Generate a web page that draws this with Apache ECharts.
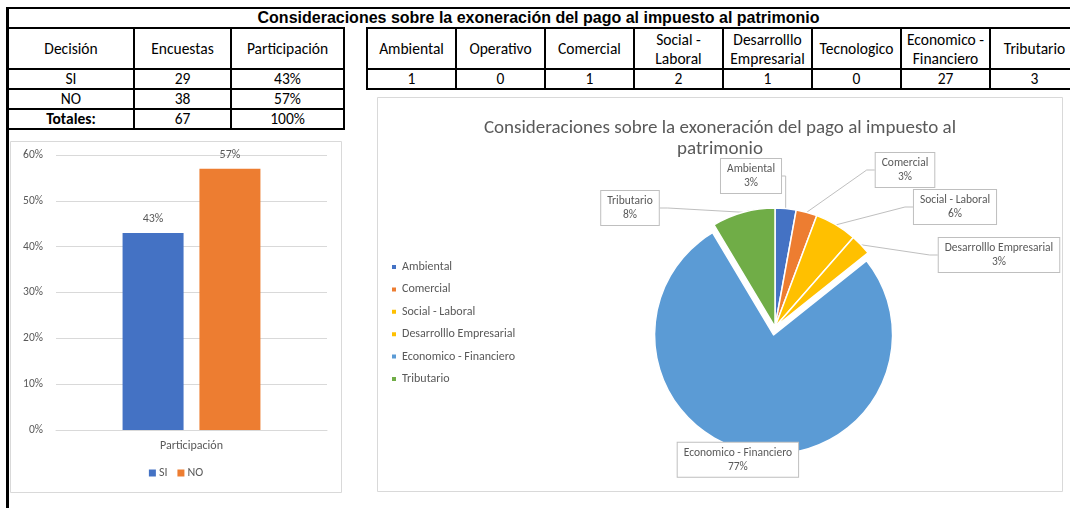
<!DOCTYPE html>
<html>
<head>
<meta charset="utf-8">
<script src="https://cdn.jsdelivr.net/npm/echarts@6/dist/echarts.min.js"></script>
<style>
  body { margin: 0; background: #fff; width: 1070px; height: 508px; overflow: hidden; position: relative; font-family: Carlito, Lato, sans-serif; }
  #leftLine { position: absolute; left: 6px; top: 7px; width: 3px; height: 501px; background: #000; }
  #title { position: absolute; left: 7px; top: 7px; width: 1063px; height: 21px; border-top: 2px solid #000; box-sizing: border-box;
           font: bold 16px "Liberation Sans", Arial, sans-serif; text-align: center; line-height: 18px; color: #000; }
  table { position: absolute; border-collapse: collapse; table-layout: fixed; font-size: 15.5px; color: #000; }
  td { border: 2px solid #000; text-align: center; padding: 0; line-height: 16px; overflow: hidden; white-space: nowrap; font-weight: normal; }
  td.two { line-height: 19px; }
  #bar, #pie { position: absolute; }
  #bar { left: 10px; top: 141px; width: 332px; height: 352px; }
  #pie { left: 377px; top: 97px; width: 686px; height: 395px; }
</style>
</head>
<body>
<div id="leftLine"></div>
<div id="title">Consideraciones sobre la exoneración del pago al impuesto al patrimonio</div>
<table id="tblDecision"></table>
<table id="tblCategorias"></table>
<div id="bar"></div>
<div id="pie"></div>
<script>
// tabla de decision
var decisiones = ['SI', 'NO'];
var encuestas = [29, 38];
var participacion = [43, 57];
var totalEncuestas = 67;
var totalParticipacion = 100;

// tabla de consideraciones
var categorias = ['Ambiental', 'Operativo', 'Comercial', 'Social - Laboral', 'Desarrolllo Empresarial', 'Tecnologico', 'Economico - Financiero', 'Tributario'];
var cabeceras = ['Ambiental', 'Operativo', 'Comercial', 'Social -<br>Laboral', 'Desarrolllo<br>Empresarial', 'Tecnologico', 'Economico -<br>Financiero', 'Tributario'];
var conteos = [1, 0, 1, 2, 1, 0, 27, 3];

// torta (solo las que tienen valor)
var tortaNombres = ['Ambiental', 'Comercial', 'Social - Laboral', 'Desarrolllo Empresarial', 'Economico - Financiero', 'Tributario'];
var tortaValores = [1, 1, 2, 1, 27, 3];
var tortaEtiquetas = ['3%', '3%', '6%', '3%', '77%', '8%'];
var tortaColores = ['#4472C4', '#ED7D31', '#FFC000', '#FFC000', '#5B9BD5', '#70AD47'];

var ejeY = [0, 10, 20, 30, 40, 50, 60];

/* armar tablas */
var t1 = document.getElementById('tblDecision');
t1.style.left = '7px'; t1.style.top = '27px'; t1.style.width = '336px';
var html = '<colgroup><col style="width:126px"><col style="width:97px"><col style="width:113px"></colgroup>';
html += '<tr style="height:41px"><td>Decisión</td><td>Encuestas</td><td>Participación</td></tr>';
for (var i = 0; i < decisiones.length; i++) {
    html += '<tr style="height:20px"><td>' + decisiones[i] + '</td><td>' + encuestas[i] + '</td><td>' + participacion[i] + '%</td></tr>';
}
html += '<tr style="height:20px"><td style="font-weight:bold">Totales:</td><td>' + totalEncuestas + '</td><td>' + totalParticipacion + '%</td></tr>';
t1.innerHTML = html;

var t2 = document.getElementById('tblCategorias');
t2.style.left = '366px'; t2.style.top = '27px'; t2.style.width = (89 * 8) + 'px';
html = '<colgroup>';
for (var i = 0; i < categorias.length; i++) html += '<col style="width:89px">';
html += '</colgroup><tr style="height:41px">';
for (var i = 0; i < cabeceras.length; i++) html += '<td class="two">' + cabeceras[i] + '</td>';
html += '</tr><tr style="height:20px">';
for (var i = 0; i < conteos.length; i++) html += '<td>' + conteos[i] + '</td>';
html += '</tr>';
t2.innerHTML = html;

var fuente = 'Carlito, Lato, sans-serif';
var gris = '#595959';

/* grafico de barras */
var barChart = echarts.init(document.getElementById('bar'));
var barOption = {
    animation: false,
    textStyle: { fontFamily: fuente },
    graphic: [{
        type: 'rect', z: -10,
        shape: { x: 0.5, y: 0.5, width: 331, height: 351 },
        style: { fill: '#fff', stroke: '#D9D9D9', lineWidth: 1 }
    }],
    grid: { left: 46, right: 15, top: 14, bottom: 63 },
    legend: {
        bottom: 9, left: 'center',
        itemWidth: 7, itemHeight: 7, itemGap: 10,
        icon: 'rect',
        textStyle: { color: gris, fontSize: 12, fontFamily: fuente, padding: [0, 0, 0, -2] },
        data: decisiones
    },
    xAxis: {
        type: 'category',
        data: ['Participación'],
        axisLine: { lineStyle: { color: '#D9D9D9' } },
        axisTick: { show: false },
        axisLabel: { color: gris, fontSize: 12, margin: 10 }
    },
    yAxis: {
        type: 'value', min: ejeY[0], max: ejeY[ejeY.length - 1], interval: 10,
        axisLine: { show: false },
        axisTick: { show: false },
        splitLine: { lineStyle: { color: '#D9D9D9' } },
        axisLabel: { color: gris, fontSize: 11.5, margin: 13, formatter: '{value}%' }
    },
    series: decisiones.map(function (d, i) {
        return {
            name: d,
            type: 'bar',
            barWidth: 61,
            barGap: '26%',
            itemStyle: { color: ['#4472C4', '#ED7D31'][i] },
            label: { show: true, position: 'top', distance: 8, color: gris, fontSize: 12, formatter: '{c}%' },
            data: [participacion[i]]
        };
    })
};
barChart.setOption(barOption);

/* grafico de torta */
var posEtiquetas = [[374, 79], [528, 73], [578, 110], [622, 158], [345, 376], [253, 111]];
var pieChart = echarts.init(document.getElementById('pie'));
var pieOption = {
    animation: false,
    textStyle: { fontFamily: fuente },
    graphic: [{
        type: 'rect', z: -10,
        shape: { x: 0.5, y: 0.5, width: 685, height: 394 },
        style: { fill: '#fff', stroke: '#D9D9D9', lineWidth: 1 }
    }],
    title: {
        text: 'Consideraciones sobre la exoneración del pago al impuesto al\npatrimonio',
        left: 'center', top: 16,
        textStyle: { color: gris, fontSize: 19, fontWeight: 'normal', fontFamily: fuente, lineHeight: 21 }
    },
    legend: {
        orient: 'vertical', left: 13, top: 163.5, padding: 0,
        itemWidth: 6, itemHeight: 6, itemGap: 9.4,
        icon: 'rect',
        textStyle: { color: gris, fontSize: 12, fontFamily: fuente, lineHeight: 13 },
        data: tortaNombres
    },
    series: [{
        type: 'pie',
        center: [398, 230],
        radius: 119,
        startAngle: 90,
        clockwise: true,
        selectedMode: true,
        selectedOffset: 8,
        itemStyle: { borderColor: '#fff', borderWidth: 1.5 },
        select: { itemStyle: { borderColor: '#fff', borderWidth: 1.5 } },
        emphasis: { scale: false },
        label: {
            show: true,
            position: 'outside',
            color: gris,
            fontSize: 11.5,
            lineHeight: 14,
            align: 'center',
            backgroundColor: '#fff',
            borderColor: '#BFBFBF',
            borderWidth: 1,
            padding: [3, 6],
            formatter: function (p) { return p.name + '\n' + tortaEtiquetas[p.dataIndex]; }
        },
        labelLine: { show: true, length: 8, length2: 8, lineStyle: { color: '#BFBFBF', width: 1 } },
        labelLayout: function (p) {
            var q = posEtiquetas[p.dataIndex];
            return { x: q[0], y: q[1], align: 'center', verticalAlign: 'middle' };
        },
        data: tortaNombres.map(function (n, i) {
            return {
                name: n,
                value: tortaValores[i],
                selected: n === 'Economico - Financiero',
                itemStyle: { color: tortaColores[i] }
            };
        })
    }]
};
pieChart.setOption(pieOption);

window.onresize = function () {
    barChart.resize();
    pieChart.resize();
};
</script>
</body>
</html>
